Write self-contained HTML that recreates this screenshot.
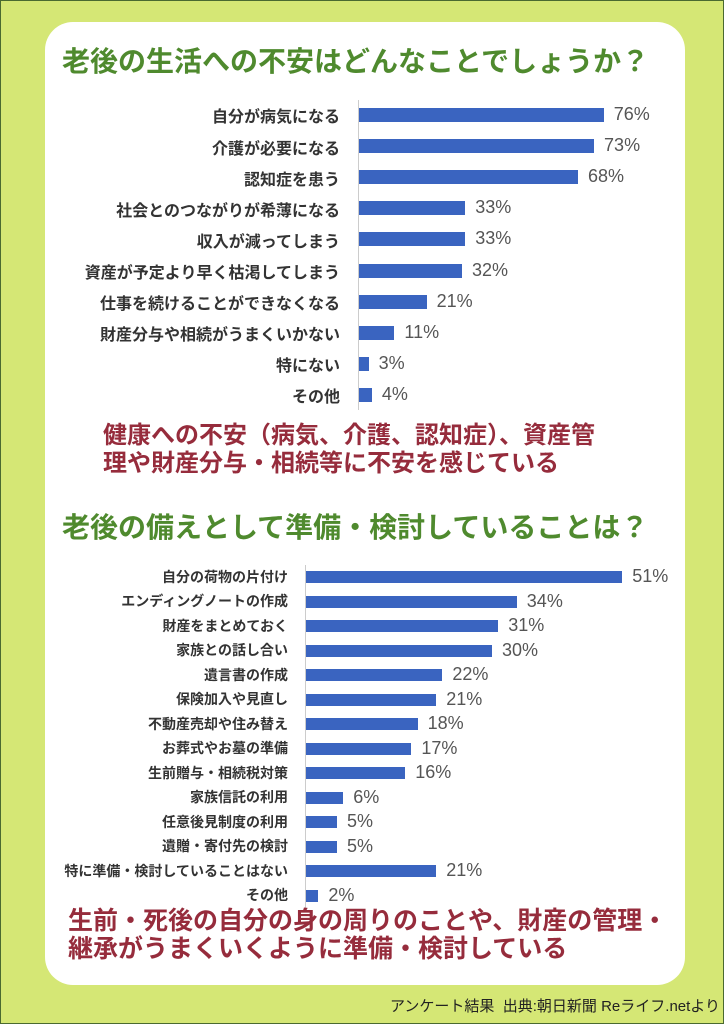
<!DOCTYPE html>
<html><head><meta charset="utf-8"><style>
body{margin:0;width:724px;height:1024px;overflow:hidden;font-family:"Liberation Sans","Noto Sans CJK JP",sans-serif}
.bg{position:absolute;left:0;top:0;width:722px;height:1022px;background:#d5e775;border:1px solid #4a6a30}
.panel{position:absolute;left:45px;top:22px;width:640px;height:963px;background:#fff;border-radius:28px}
.t{position:absolute;white-space:nowrap}
.title{color:#4f8a2e;font-weight:bold;font-size:28px}
.red{color:#962c3c;font-weight:bold;font-size:24px;line-height:28px}
.lab{position:absolute;text-align:right;color:#333;font-weight:bold;white-space:nowrap}
.bar{position:absolute;background:#3a64c0}
.val{position:absolute;color:#555;font-size:18px;white-space:nowrap}
.ax{position:absolute;width:1px;background:#ccc}
</style></head><body>
<div class="bg"></div><div class="panel"></div>
<div class="t title" style="left:62px;top:40px">老後の生活への不安はどんなことでしょうか？</div>
<div class="ax" style="left:358px;top:100px;height:310px"></div>
<div id="c1"></div>
<div class="t red" style="left:103px;top:422px">健康への不安（病気、介護、認知症）、資産管<br>理や財産分与・相続等に不安を感じている</div>
<div class="t title" style="left:62px;top:506px">老後の備えとして準備・検討していることは？</div>
<div class="ax" style="left:305px;top:565px;height:343px"></div>
<div id="c2"></div>
<div class="t red" style="left:68px;top:907px;font-size:25px">生前・死後の自分の身の周りのことや、財産の管理・<br>継承がうまくいくように準備・検討している</div>
<div class="t" style="right:4px;top:995px;font-size:15px;color:#222">アンケート結果&nbsp; 出典:朝日新聞 Reライフ.netより</div>
<script>
function draw(id,data,ax,y0,dy,scale,bh,fs,rp){
 var h='';data.forEach(function(d,i){var y=y0+i*dy;var w=d[1]*scale;
 h+='<div class="lab" style="right:'+(724-ax+rp)+'px;top:'+(y-fs*0.72)+'px;font-size:'+fs+'px">'+d[0]+'</div>';
 h+='<div class="bar" style="left:'+(ax+1)+'px;top:'+(y-bh/2)+'px;width:'+w+'px;height:'+bh+'px"></div>';
 h+='<div class="val" style="left:'+(ax+1+w+10)+'px;top:'+(y-11)+'px">'+d[1]+'%</div>';});
 document.getElementById(id).innerHTML=h;}
draw('c1',[["自分が病気になる",76],["介護が必要になる",73],["認知症を患う",68],["社会とのつながりが希薄になる",33],["収入が減ってしまう",33],["資産が予定より早く枯渇してしまう",32],["仕事を続けることができなくなる",21],["財産分与や相続がうまくいかない",11],["特にない",3],["その他",4]],358,115,31.1,3.22,14,16,18);
draw('c2',[["自分の荷物の片付け",51],["エンディングノートの作成",34],["財産をまとめておく",31],["家族との話し合い",30],["遺言書の作成",22],["保険加入や見直し",21],["不動産売却や住み替え",18],["お葬式やお墓の準備",17],["生前贈与・相続税対策",16],["家族信託の利用",6],["任意後見制度の利用",5],["遺贈・寄付先の検討",5],["特に準備・検討していることはない",21],["その他",2]],305,577,24.5,6.2,12,14,17);
</script>
</body></html>
